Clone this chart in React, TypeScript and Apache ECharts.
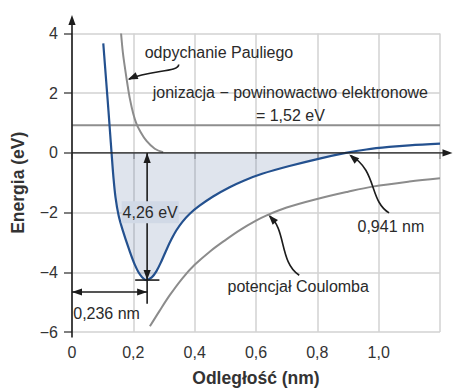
import React, { useEffect, useRef } from "react";
import * as echarts from "echarts";

// ---- data ----
const xMin = 0;
const xMax = 1.2;
const xStep = 0.2;
const yMin = -6;
const yMax = 4;
const yStep = 2;

// blue: total potential energy (nm, eV)
const bluePotential: [number, number][] = [
  [0.102, 3.67], [0.107, 3.0], [0.113, 2.2], [0.119, 1.4], [0.124, 0.7],
  [0.129, 0.0], [0.135, -0.8], [0.142, -1.5], [0.152, -2.1], [0.165, -2.58],
  [0.185, -3.2], [0.205, -3.75], [0.222, -4.08], [0.242, -4.26], [0.26, -4.17],
  [0.275, -3.97], [0.292, -3.62], [0.31, -3.2], [0.325, -2.88], [0.34, -2.6],
  [0.36, -2.31], [0.385, -2.03], [0.416, -1.77], [0.46, -1.46], [0.514, -1.15],
  [0.56, -0.93], [0.62, -0.7], [0.709, -0.44], [0.807, -0.19], [0.893, 0.0],
  [0.96, 0.115], [1.034, 0.2], [1.1, 0.255], [1.2, 0.31],
];

// gray: Coulomb potential
const coulombPotential: [number, number][] = [
  [0.254, -5.81], [0.285, -5.3], [0.32, -4.75], [0.36, -4.2], [0.4, -3.75],
  [0.45, -3.3], [0.5, -2.92], [0.55, -2.57], [0.6, -2.27], [0.633, -2.1],
  [0.7, -1.83], [0.796, -1.55], [0.9, -1.3], [0.98, -1.13], [1.1, -0.96],
  [1.2, -0.85],
];

// gray: Pauli repulsion
const pauliRepulsion: [number, number][] = [
  [0.16, 4.0], [0.166, 3.35], [0.172, 2.9], [0.18, 2.35], [0.189, 1.8],
  [0.2, 1.3], [0.21, 0.98], [0.221, 0.75], [0.243, 0.4], [0.27, 0.14],
  [0.297, 0.02],
];

// horizontal level: ionization − electron affinity
const ionizationLevel = 0.93;

// annotation texts
const labelPauli = "odpychanie Pauliego";
const labelIonization = "jonizacja − powinowactwo elektronowe\n= 1,52 eV";
const labelEnergy = "4,26 eV";
const labelBond = "0,236 nm";
const labelCrossing = "0,941 nm";
const labelCoulomb = "potencjał Coulomba";
const xTitle = "Odległość (nm)";
const yTitle = "Energia (eV)";

const FONT = '"Liberation Sans", Arial, Helvetica, sans-serif';
const INK = "#1c1c1c";
const TXT = "#2a2a2a";

type Pt = [number, number];

export default function App() {
  const ref = useRef<HTMLDivElement>(null);

  useEffect(() => {
    const chart = echarts.init(ref.current!, null, { renderer: "svg" });
    const fillData = bluePotential.filter(([, y]) => y <= 0);

    const curveSeries = (data: Pt[], color: string, width: number, z: number) => ({
      type: "line",
      data,
      smooth: 0.35,
      showSymbol: false,
      silent: true,
      lineStyle: { color, width },
      z,
    });

    chart.setOption({
      animation: false,
      backgroundColor: "#ffffff",
      textStyle: { fontFamily: FONT },
      grid: { left: 72, right: 13, top: 33.5, bottom: 56.5, containLabel: false },
      xAxis: {
        type: "value",
        min: xMin,
        max: xMax,
        interval: xStep,
        axisLine: { show: false },
        axisTick: { show: true, length: 6, lineStyle: { color: "#9a9a9a", width: 1.5 } },
        axisLabel: {
          fontSize: 16,
          color: "#333",
          margin: 12,
          formatter: (v: number) =>
            v > 1.1 ? "" : v === 0 ? "0" : v.toFixed(1).replace(".", ","),
        },
        splitLine: { show: true, lineStyle: { color: "#d2d2d2", width: 1.5 } },
        name: xTitle,
        nameLocation: "middle",
        nameGap: 37,
        nameTextStyle: { fontSize: 17.5, fontWeight: "bold", color: "#333", fontFamily: FONT },
      },
      yAxis: {
        type: "value",
        min: yMin,
        max: yMax,
        interval: yStep,
        axisLine: { show: false },
        axisTick: { show: true, length: 8, lineStyle: { color: "#555", width: 1.5 } },
        axisLabel: {
          fontSize: 16,
          color: "#333",
          margin: 14,
          formatter: (v: number) => (v < 0 ? "\u2212" + Math.abs(v) : String(v)),
        },
        splitLine: { show: true, lineStyle: { color: "#d2d2d2", width: 1.5 } },
        name: yTitle,
        nameLocation: "middle",
        nameGap: 45,
        nameTextStyle: { fontSize: 17.5, fontWeight: "bold", color: "#333", fontFamily: FONT },
      },
      series: [
        {
          type: "line",
          data: fillData,
          smooth: 0.35,
          showSymbol: false,
          silent: true,
          lineStyle: { width: 0 },
          areaStyle: { color: "rgba(71,103,155,0.25)" },
          z: 1,
        },
        {
          type: "line",
          data: [[xMin, ionizationLevel], [xMax, ionizationLevel]],
          showSymbol: false,
          silent: true,
          lineStyle: { color: "#8e8e8e", width: 2 },
          z: 2,
        },
        curveSeries(coulombPotential, "#8c8c8c", 2, 3),
        curveSeries(pauliRepulsion, "#8c8c8c", 2, 3),
        curveSeries(bluePotential, "#24518f", 2.2, 4),
      ],
    });

    const P = (x: number, y: number): Pt =>
      chart.convertToPixel({ gridIndex: 0 }, [x, y]) as unknown as Pt;

    const line = (a: Pt, b: Pt, w = 1.6, color = INK) => ({
      type: "line",
      silent: true,
      z: 50,
      shape: { x1: a[0], y1: a[1], x2: b[0], y2: b[1] },
      style: { stroke: color, lineWidth: w },
    });
    const head = (tip: Pt, from: Pt, len = 10, half = 3.6) => {
      const dx = tip[0] - from[0];
      const dy = tip[1] - from[1];
      const d = Math.hypot(dx, dy) || 1;
      const ux = dx / d;
      const uy = dy / d;
      const bx = tip[0] - ux * len;
      const by = tip[1] - uy * len;
      return {
        type: "polygon",
        silent: true,
        z: 52,
        shape: {
          points: [
            [tip[0], tip[1]],
            [bx - uy * half, by + ux * half],
            [bx + uy * half, by - ux * half],
          ],
        },
        style: { fill: INK },
      };
    };
    const curve = (p0: Pt, c1: Pt, c2: Pt, p3: Pt) => ({
      type: "bezierCurve",
      silent: true,
      z: 50,
      shape: {
        x1: p0[0], y1: p0[1], cpx1: c1[0], cpy1: c1[1],
        cpx2: c2[0], cpy2: c2[1], x2: p3[0], y2: p3[1],
      },
      style: { stroke: INK, lineWidth: 1.6, fill: "none" },
    });
    const text = (t: string, p: Pt, align: string, extra: any = {}) => ({
      type: "text",
      silent: true,
      z: 60,
      x: p[0],
      y: p[1],
      style: {
        text: t,
        font: `16px ${FONT}`,
        fill: TXT,
        align,
        verticalAlign: "middle",
        ...extra,
      },
    });

    // axes drawn by hand (arrows)
    const o = P(0, 0);
    const yBottom = P(0, yMin);
    const yTop = P(0, yMax);
    const xRight = P(xMax, 0);
    const yTip: Pt = [o[0], yTop[1] - 18.5];
    const xTip: Pt = [xRight[0] + 12.5, o[1]];

    // vertical energy arrow
    const vx = 0.245;
    const vTop = P(vx, 0);
    const vMin = P(vx, -4.26);
    const vBottom = P(vx, -5.05);
    // horizontal bond-length arrow
    const hY = -4.66;
    const hL = P(0, hY);
    const hR = P(vx, hY);

    const graphic: any[] = [
      line([o[0], yBottom[1] + 5.5], [yTip[0], yTip[1] + 6], 1.6),
      head(yTip, [o[0], o[1]], 10, 3.6),
      line(o, [xTip[0] - 6, xTip[1]], 1.3),
      head(xTip, o, 10, 3.6),

      line(vTop, vBottom, 1.6),
      head(vTop, vMin, 10, 3.6),
      head(vMin, vTop, 10, 3.6),
      line(P(0.206, -4.26), P(0.285, -4.26), 1.6),
      line(hL, hR, 1.6),
      head(hL, hR, 10, 3.6),
      head(hR, hL, 10, 3.6),

      text(labelEnergy, P(0.255, -1.99), "center", {
        backgroundColor: "rgb(209,217,230)",
        padding: [3, 1, 3, 1],
      }),
      text(labelBond, P(0.004, -5.37), "left"),
      text(labelPauli, P(0.237, 3.35), "left"),
      text(labelIonization, P(0.712, 1.64), "center", { lineHeight: 22.5 }),
      text(labelCrossing, P(0.931, -2.47), "left"),
      text(labelCoulomb, P(0.507, -4.48), "left"),

      // Pauli pointer
      curve(P(0.348, 2.96), P(0.348, 2.69), P(0.254, 2.79), P(0.186, 2.47)),
      head(P(0.182, 2.46), P(0.215, 2.6), 10, 3.6),
      // crossing pointer
      curve(P(1.034, -2.01), P(0.969, -1.61), P(0.995, -0.59), P(0.91, -0.09)),
      head(P(0.904, -0.056), P(0.93, -0.28), 10, 3.6),
      // Coulomb pointer
      curve(P(0.741, -4.1), P(0.676, -3.67), P(0.699, -2.57), P(0.645, -2.12)),
      head(P(0.641, -2.08), P(0.665, -2.35), 10, 3.6),
    ];

    chart.setOption({ graphic });

    return () => chart.dispose();
  }, []);

  return (
    <div
      ref={ref}
      style={{ position: "absolute", left: 0, top: 0, width: 453, height: 392, background: "#fff" }}
    />
  );
}
